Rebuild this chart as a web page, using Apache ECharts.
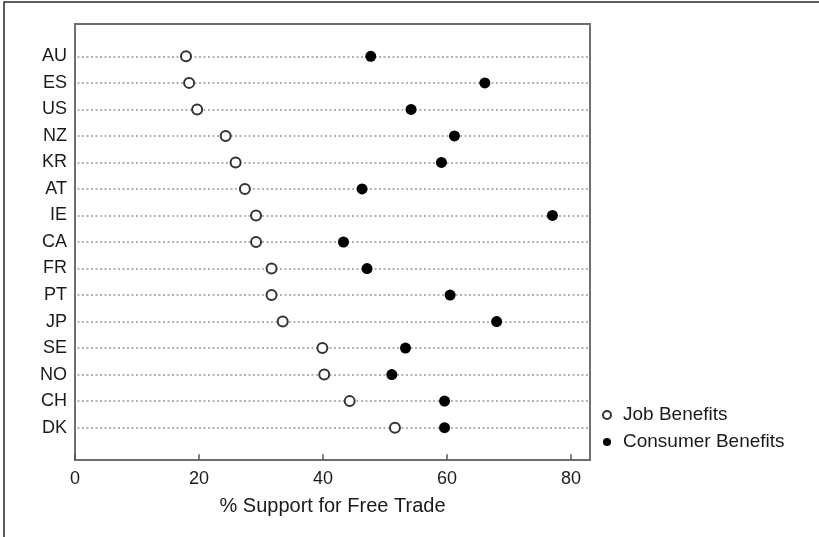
<!DOCTYPE html>
<html>
<head>
<meta charset="utf-8">
<script src="https://cdn.jsdelivr.net/npm/echarts@6/dist/echarts.min.js"></script>
<style>
  html, body { margin: 0; padding: 0; background: #fff; }
  #chart { width: 819px; height: 537px; }
</style>
</head>
<body>
<div id="chart"></div>
<script>
// countries top to bottom
var countries = ['AU', 'ES', 'US', 'NZ', 'KR', 'AT', 'IE', 'CA', 'FR', 'PT', 'JP', 'SE', 'NO', 'CH', 'DK']
var jobBenefits = [17.9, 18.4, 19.7, 24.3, 25.9, 27.4, 29.2, 29.2, 31.7, 31.7, 33.5, 39.9, 40.2, 44.3, 51.6]
var consumerBenefits = [47.7, 66.1, 54.2, 61.2, 59.1, 46.3, 77.0, 43.3, 47.1, 60.5, 68.0, 53.3, 51.1, 59.6, 59.6]
var xTicks = [0, 20, 40, 60, 80]

var n = countries.length
var rowPos = countries.map(function (c, i) { return n - i })

var font = 'Liberation Sans, Arial, sans-serif'
var xMax = 83.06

var chart = echarts.init(document.getElementById('chart'))

// dotted guide line for every row
var guideLines = rowPos.map(function (y) {
  return [{ coord: [0.4, y] }, { coord: [xMax, y] }]
})

chart.setOption({
  animation: false,
  backgroundColor: '#fff',
  graphic: [{
    type: 'rect',
    shape: { x: 4, y: 2, width: 900, height: 700 },
    style: { fill: 'none', stroke: '#2a2a2a', lineWidth: 1.5 },
    silent: true
  }],
  grid: {
    left: 75, right: 229, top: 24, bottom: 77,
    show: true,
    borderColor: '#6e6e6e',
    borderWidth: 2,
    backgroundColor: 'transparent'
  },
  legend: {
    orient: 'vertical',
    left: 597,
    top: 400,
    itemWidth: 22,
    itemHeight: 8,
    itemGap: 7,
    icon: 'circle',
    textStyle: { fontFamily: font, fontSize: 19, color: '#1a1a1a', lineHeight: 20 },
    data: ['Job Benefits', 'Consumer Benefits']
  },
  xAxis: {
    type: 'value',
    min: 0,
    max: xMax,
    name: '% Support for Free Trade',
    nameLocation: 'middle',
    nameGap: 36,
    nameTextStyle: { fontFamily: font, fontSize: 20, color: '#1a1a1a' },
    axisLine: { show: false },
    axisTick: { show: true, length: 6, customValues: xTicks, lineStyle: { color: '#555', width: 1.5 } },
    axisLabel: { customValues: xTicks, fontFamily: font, fontSize: 18, color: '#1a1a1a', margin: 10 },
    splitLine: { show: false }
  },
  yAxis: {
    type: 'value',
    min: -0.22,
    max: 16.22,
    axisLine: { show: false },
    axisTick: { show: false },
    splitLine: { show: false },
    axisLabel: {
      customValues: rowPos,
      margin: 8,
      fontFamily: font,
      fontSize: 18,
      color: '#1a1a1a',
      formatter: function (v) { return countries[n - v] }
    }
  },
  series: [
    {
      name: 'Job Benefits',
      type: 'scatter',
      symbol: 'circle',
      symbolSize: 10,
      z: 3,
      itemStyle: { color: '#fff', borderColor: '#333', borderWidth: 2, opacity: 1 },
      data: jobBenefits.map(function (v, i) { return [v, rowPos[i]] }),
      markLine: {
        silent: true,
        symbol: 'none',
        z: 1,
        label: { show: false },
        lineStyle: { color: '#999', type: [2, 2.5], width: 1.6, opacity: 1 },
        data: guideLines
      }
    },
    {
      name: 'Consumer Benefits',
      type: 'scatter',
      symbol: 'circle',
      symbolSize: 11,
      z: 3,
      itemStyle: { color: '#000', opacity: 1 },
      data: consumerBenefits.map(function (v, i) { return [v, rowPos[i]] })
    }
  ]
})
</script>
</body>
</html>
